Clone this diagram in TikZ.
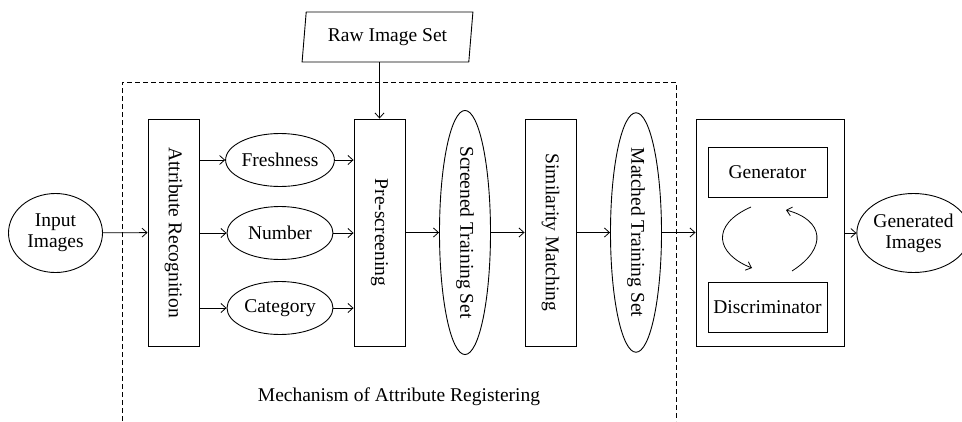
\documentclass[tikz,border=0pt]{standalone}
\usepackage{fontspec}
\setmainfont{Liberation Serif}
\usetikzlibrary{shapes.geometric,arrows.meta}

\tikzset{
  stage/.style={draw, line width=0.9pt, minimum width=51pt, minimum height=227pt, inner sep=0pt},
  attrell/.style={draw, ellipse, line width=0.9pt, minimum width=106pt, minimum height=53pt, inner sep=0pt},
  tallell/.style={draw, ellipse, line width=0.9pt, minimum width=51pt, minimum height=227pt, inner sep=0pt},
  endell/.style={draw, ellipse, line width=0.9pt, minimum width=94pt, minimum height=79pt, inner sep=0pt, align=center},
  ganbox/.style={draw, line width=0.9pt, minimum width=119pt, minimum height=50pt, inner sep=0pt},
  flow/.style={-{Straight Barb[length=5pt,width=9pt]}, line width=0.8pt},
}

\begin{document}
\begin{tikzpicture}[x=1pt, y=-1pt, font=\fontsize{19.5}{21}\selectfont]
			\useasboundingbox (0,0) rectangle (962,421);

			% dashed frame, open at the bottom
			\draw[line width=0.9pt, dash pattern=on 5pt off 3pt] (122,421) -- (122,82) -- (676,82) -- (676,421);
			\node (mech) at (399,397) {Mechanism of Attribute Registering};

			\node[draw, trapezium, trapezium left angle=80, trapezium right angle=100, trapezium stretches=true,
			      line width=0.9pt, minimum width=171pt, minimum height=50pt, inner sep=0pt] (raw) at (387.5,37) {Raw Image Set};

			\node[endell] (input) at (55.5,233) {Input\\Images};
			\node[stage] (attr) at (173.5,232.5) {\rotatebox{-90}{Attribute Recognition}};
			\node[attrell] (fresh) at (280,160) {Freshness};
			\node[attrell] (num)   at (280,233) {Number};
			\node[attrell] (cat)   at (280,308) {Category};
			\node[stage] (pre) at (379.5,232.5) {\rotatebox{-90}{Pre-screening}};
			\node[tallell] (scr) at (465,232.5) {\rotatebox{-90}{Screened Training Set}};
			\node[stage] (sim) at (550.5,232.5) {\rotatebox{-90}{Similarity Matching}};
			\node[tallell] (mat) at (636,232.5) {\rotatebox{-90}{Matched Training Set}};

			\node[draw, line width=0.9pt, minimum width=148pt, minimum height=227pt, inner sep=0pt] (gan) at (770,232.5) {};
			\node[ganbox] (gen) at (767.5,172) {Generator};
			\node[ganbox] (dis) at (767.5,307) {Discriminator};
			\node[endell] (out) at (913.5,233) {Generated\\Images};

			\draw[flow] (pre.north |- raw.south) -- (pre.north);
			\draw[flow] (input) -- (attr);
			\draw[flow] (attr.east |- fresh) -- (fresh);
			\draw[flow] (attr.east |- num) -- (num);
			\draw[flow] (attr.east |- cat) -- (cat);
			\draw[flow] (fresh) -- (pre.west |- fresh);
			\draw[flow] (num) -- (pre.west |- num);
			\draw[flow] (cat) -- (pre.west |- cat);
			\draw[flow] (pre.east |- scr) -- (scr);
			\draw[flow] (scr) -- (sim.west |- scr);
			\draw[flow] (sim.east |- mat) -- (mat);
			\draw[flow] (mat) -- (gan.west |- mat);
			\draw[flow] (gan.east |- out) -- (out);

			% adversarial loop
			\coordinate (l1) at (751,207);
			\coordinate (l2) at (752,268);
			\coordinate (r1) at (792,271);
			\coordinate (r2) at (786,210);
			\draw[flow] (l1) .. controls (710,225) and (716,254) .. (l2);
			\draw[flow] (r1) .. controls (828,248) and (824,220) .. (r2);
		\end{tikzpicture}
\end{document}
